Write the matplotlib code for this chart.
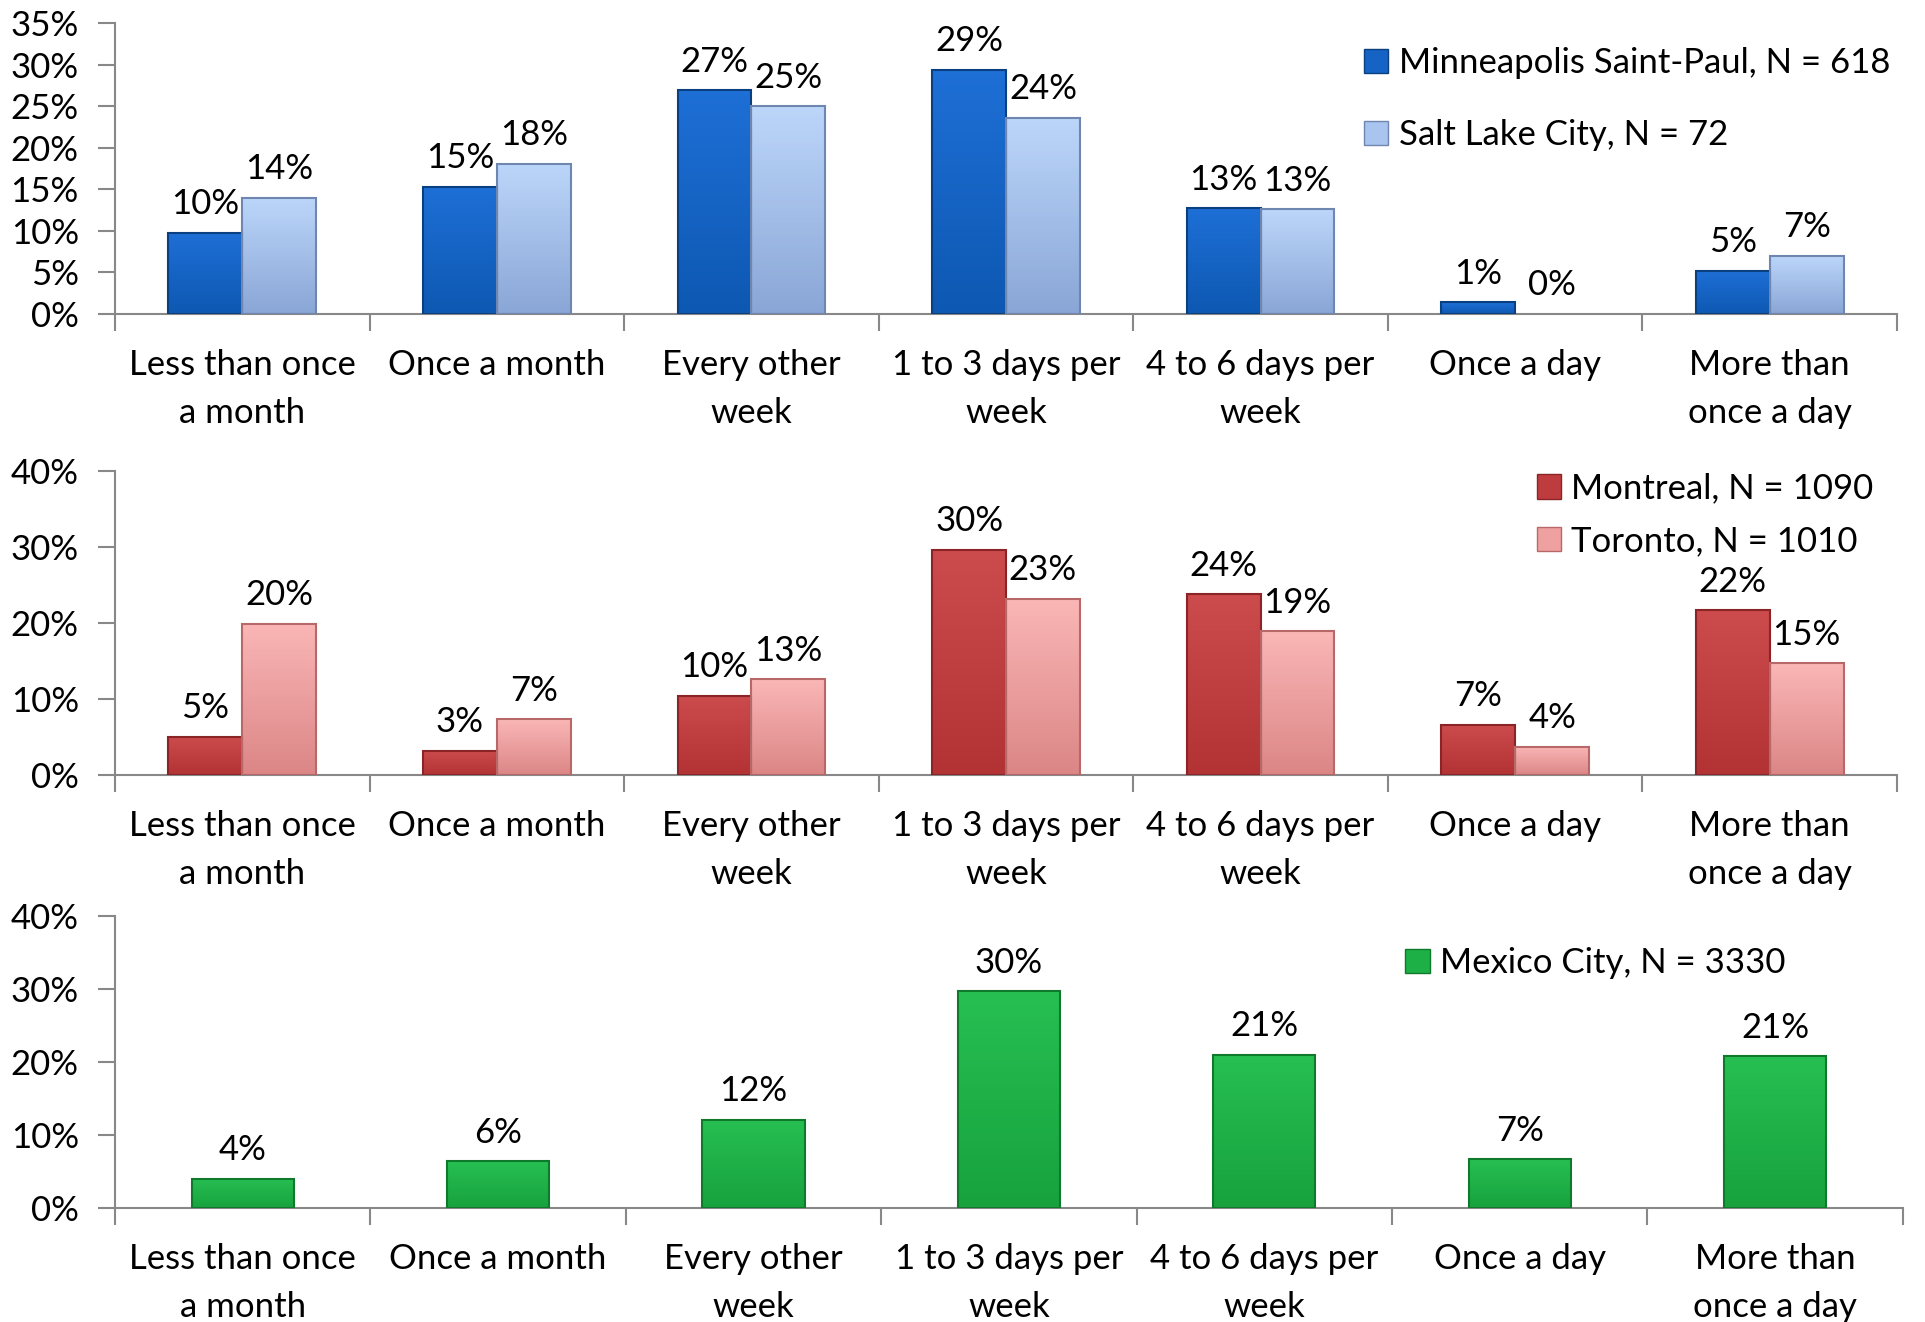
import numpy as np
import matplotlib
matplotlib.use("Agg")
import matplotlib.pyplot as plt
from matplotlib.patches import Patch
from matplotlib.colors import LinearSegmentedColormap

plt.rcParams['font.family'] = ['Lato', 'DejaVu Sans']

categories = ["Less than once\na month", "Once a month", "Every other\nweek",
              "1 to 3 days per\nweek", "4 to 6 days per\nweek", "Once a day",
              "More than\nonce a day"]

# top panel
minneapolis = [9.8, 15.3, 26.9, 29.4, 12.7, 1.4, 5.2]
salt_lake = [14.0, 18.1, 25.0, 23.6, 12.6, 0.0, 7.0]
# middle panel
montreal = [5.0, 3.2, 10.4, 29.6, 23.8, 6.6, 21.7]
toronto = [19.9, 7.3, 12.6, 23.2, 18.9, 3.7, 14.7]
# bottom panel
mexico = [4.0, 6.4, 12.1, 29.7, 21.0, 6.7, 20.8]

FS = 25


def gradient_bars(ax, bars, top_col, bot_col, edge):
    # paint each bar with a vertical gradient clipped to its shape
    cmap = LinearSegmentedColormap.from_list("g", [bot_col, top_col])
    grad = np.linspace(0, 1, 64).reshape(-1, 1)
    for b in bars:
        h = b.get_height()
        if h <= 0:
            b.set_visible(False)
            continue
        x0 = b.get_x()
        w = b.get_width()
        im = ax.imshow(grad, cmap=cmap, origin="lower", aspect="auto",
                       extent=(x0, x0 + w, 0, h), zorder=2)
        im.set_clip_path(b)
        b.set_facecolor("none")
        b.set_edgecolor(edge)
        b.set_linewidth(1.5)
        b.set_zorder(3)


def style_axis(ax, ymax, ystep):
    ax.set_xlim(-0.5, 6.5)
    ax.set_ylim(0, ymax)
    ax.set_yticks(np.arange(0, ymax + 0.1, ystep))
    ax.set_yticklabels(["{:.0f}%".format(v) for v in np.arange(0, ymax + 0.1, ystep)])
    ax.set_xticks(np.arange(7))
    ax.set_xticklabels(categories, linespacing=1.62)
    ax.set_xticks(np.arange(-0.5, 7, 1), minor=True)
    ax.tick_params(axis="x", which="major", length=0, pad=25, labelsize=FS)
    ax.tick_params(axis="x", which="minor", length=12, color="#888888", width=1.5)
    ax.tick_params(axis="y", length=12, color="#888888", width=1.5, pad=14, labelsize=FS)
    for s in ["top", "right"]:
        ax.spines[s].set_visible(False)
    for s in ["left", "bottom"]:
        ax.spines[s].set_color("#888888")
        ax.spines[s].set_linewidth(1.5)


def label_bars(ax, xs, vals):
    for xv, v in zip(xs, vals):
        ax.annotate("{:.0f}%".format(v), (xv, v), xytext=(0, 9), textcoords="offset points",
                    ha="center", va="bottom", fontsize=FS)


fig = plt.figure(figsize=(19.25, 13.22), dpi=100)
x = np.arange(len(categories))
w = 0.29

# top panel
ax1 = fig.add_axes([0.0597, 0.7625, 0.9258, 0.2201])
b1 = ax1.bar(x - w / 2, minneapolis, w)
b2 = ax1.bar(x + w / 2, salt_lake, w)
gradient_bars(ax1, b1, "#1E6FD6", "#0D58B2", "#0A3F80")
gradient_bars(ax1, b2, "#BCD6FA", "#8AA6D6", "#6F86B0")
label_bars(ax1, x - w / 2, minneapolis)
label_bars(ax1, x + w / 2, salt_lake)
style_axis(ax1, 35, 5)
h1 = [Patch(facecolor="#1563C4", edgecolor="#0A3F80"), Patch(facecolor="#A9C4EE", edgecolor="#6F86B0")]
ax1.legend(h1, ["Minneapolis Saint-Paul, N = 618", "Salt Lake City, N = 72"],
           loc="upper left", bbox_to_anchor=(0.693, 0.965), frameon=False, fontsize=FS,
           labelspacing=1.15, handlelength=0.7, handleheight=0.7, handletextpad=0.3,
           borderaxespad=0)

# middle panel
ax2 = fig.add_axes([0.0597, 0.4138, 0.9258, 0.2300])
b3 = ax2.bar(x - w / 2, montreal, w)
b4 = ax2.bar(x + w / 2, toronto, w)
gradient_bars(ax2, b3, "#CC4B4D", "#B33335", "#8A2426")
gradient_bars(ax2, b4, "#FAB6B6", "#DC8686", "#B86868")
label_bars(ax2, x - w / 2, montreal)
label_bars(ax2, x + w / 2, toronto)
style_axis(ax2, 40, 10)
h2 = [Patch(facecolor="#BF3C3E", edgecolor="#8A2426"), Patch(facecolor="#EFA0A0", edgecolor="#B86868")]
ax2.legend(h2, ["Montreal, N = 1090", "Toronto, N = 1010"],
           loc="upper left", bbox_to_anchor=(0.79, 1.04), frameon=False, fontsize=FS,
           labelspacing=0.6, handlelength=0.7, handleheight=0.7, handletextpad=0.3,
           borderaxespad=0)

# bottom panel
ax3 = fig.add_axes([0.0597, 0.0862, 0.9288, 0.2209])
b5 = ax3.bar(x, mexico, 0.40)
gradient_bars(ax3, b5, "#27BF52", "#17A23E", "#0F7A2C")
label_bars(ax3, x, mexico)
style_axis(ax3, 40, 10)
h3 = [Patch(facecolor="#1DB046", edgecolor="#0F7A2C")]
ax3.legend(h3, ["Mexico City, N = 3330"],
           loc="upper left", bbox_to_anchor=(0.714, 0.94), frameon=False, fontsize=FS,
           handlelength=0.7, handleheight=0.7, handletextpad=0.3, borderaxespad=0)

fig.savefig("out.png", dpi=100)
